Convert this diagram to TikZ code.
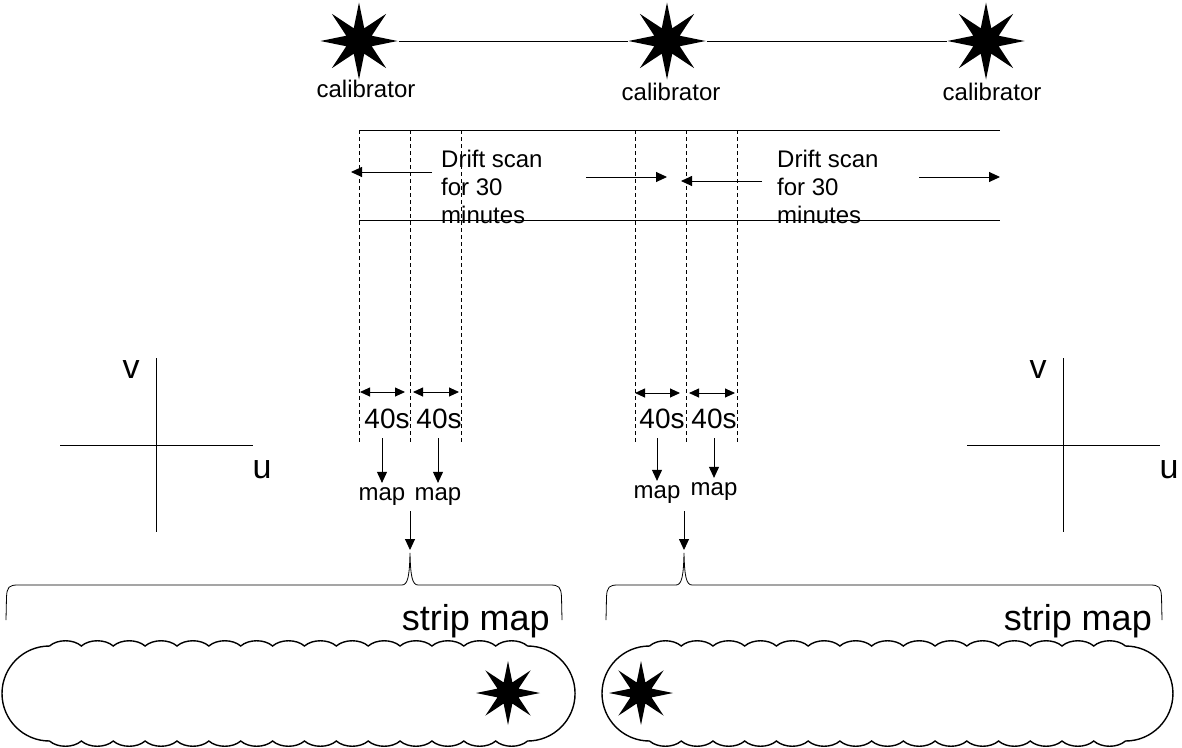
\documentclass[tikz,border=0pt]{standalone}
\usepackage{fontspec}
\setmainfont{Liberation Sans}
\usetikzlibrary{arrows.meta,shapes.geometric}
\begin{document}
\begin{tikzpicture}[x=1pt,y=-1pt,
  ln/.style={line width=0.9pt},
  dashv/.style={line width=0.8pt,dash pattern=on 4pt off 3pt},
  arr/.style={line width=0.9pt,-{Triangle[length=11pt,width=10pt]}},
  darr/.style={line width=0.9pt,{Triangle[length=10pt,width=9pt]}-{Triangle[length=10pt,width=9pt]}},
  calstar/.style={star,star points=8,star point ratio=2.8,fill=black,draw=none,inner sep=0pt,minimum size=77pt},
  mapstar/.style={calstar,minimum size=64pt},
  lbl/.style={font=\fontsize{24}{28}\selectfont,inner sep=0pt,anchor=base},
  fortys/.style={font=\fontsize{28}{32}\selectfont,inner sep=0pt,anchor=base},
  maplbl/.style={font=\fontsize{24}{28}\selectfont,inner sep=4pt,anchor=base},
  uvlbl/.style={font=\fontsize{34}{38}\selectfont,inner sep=0pt,anchor=base},
  striplbl/.style={font=\fontsize{36}{40}\selectfont,inner sep=0pt,anchor=base east},
  brace/.style={line width=0.8pt},
  blob/.style={line width=1.4pt}
]
\useasboundingbox (0,0) rectangle (1182,747);

% calibrators
\node[calstar] (s1) at (359,41) {};
\node[calstar] (s2) at (667,41) {};
\node[calstar] (s3) at (986,41) {};
\draw[ln] (s1) -- (s2);
\draw[ln] (s2) -- (s3);
\node[lbl] (c1) at (366,97) {calibrator};
\node[lbl] (c2) at (671,100) {calibrator};
\node[lbl] (c3) at (992,100) {calibrator};

% drift scan band
\draw[ln] (359,130) -- (1000,130);
\draw[ln] (359,220) -- (1000,220);
\foreach \x in {359,410,461,635,686,737} \draw[dashv] (\x,130) -- (\x,442);

\node[lbl,align=left,anchor=base west] (t1) at (441,223) {Drift scan\\for 30\\minutes};
\node[lbl,align=left,anchor=base west] (t2) at (777,223) {Drift scan\\for 30\\minutes};
\draw[arr] (432,172) -- (351,172);
\draw[arr] (586,177) -- (667,177);
\draw[arr] (762,181) -- (681,181);
\draw[arr] (919,177) -- (1000,177);

% 40s intervals
\draw[darr] (360,392) -- (405,392);
\draw[darr] (413,392) -- (459,392);
\draw[darr] (635,393) -- (680,393);
\draw[darr] (689,393) -- (735,393);
\node[fortys] (f1) at (387,428) {40s};
\node[fortys] (f2) at (439,428) {40s};
\node[fortys] (f3) at (662,428) {40s};
\node[fortys] (f4) at (714,428) {40s};

% maps
\node[maplbl] (m1) at (382,500) {map};
\node[maplbl] (m2) at (438,500) {map};
\node[maplbl] (m3) at (657,498) {map};
\node[maplbl] (m4) at (714,495) {map};
\draw[arr] ([yshift=-10pt]m1.north |- f1.south) -- (m1.north);
\draw[arr] ([yshift=-10pt]m2.north |- f2.south) -- (m2.north);
\draw[arr] ([yshift=-10pt]m3.north |- f3.south) -- (m3.north);
\draw[arr] ([yshift=-10pt]m4.north |- f4.south) -- (m4.north);

% uv axes
\draw[ln] (60,445) -- (253,445);
\draw[ln] (156,358) -- (156,532);
\node[uvlbl] (v1) at (131,378) {v};
\node[uvlbl] (u1) at (262,478) {u};
\draw[ln] (967,445) -- (1160,445);
\draw[ln] (1063,358) -- (1063,532);
\node[uvlbl] (v2) at (1038,378) {v};
\node[uvlbl] (u2) at (1169,478) {u};

% braces
\coordinate (bk1) at (410,553);
\coordinate (bk2) at (684,553);
\coordinate (a1) at (410,511);
\coordinate (a2) at (684,511);
\draw[arr,shorten >=3pt] (a1) -- (bk1);
\draw[arr,shorten >=3pt] (a2) -- (bk2);
\draw[brace] (6,620) -- (6.5,597) .. controls (7,587) and (9,585) .. (18,585) -- (402,585)
  .. controls (408,585) and (409.5,575) .. (bk1) .. controls (410.5,575) and (412,585) .. (418,585)
  -- (550,585) .. controls (559,585) and (561,587) .. (561.5,597) -- (562,620);
\draw[brace] (606,620) -- (606.5,597) .. controls (607,587) and (609,585) .. (618,585) -- (676,585)
  .. controls (682,585) and (683.5,575) .. (bk2) .. controls (684.5,575) and (686,585) .. (692,585)
  -- (1150,585) .. controls (1159,585) and (1161,587) .. (1161.5,597) -- (1162,620);
\node[striplbl] (sm1) at (550,630) {strip map};
\node[striplbl] (sm2) at (1152,630) {strip map};

% strip maps
\draw[blob] (49.5,646)
  \foreach \i in {1,...,15}{ .. controls +(7.97,-7) and +(-7.97,-7) .. ++(31.87,0) }
  arc[start angle=-90,end angle=90,radius=47.5]
  \foreach \i in {1,...,15}{ .. controls +(-7.97,7) and +(7.97,7) .. ++(-31.87,0) }
  arc[start angle=90,end angle=270,radius=47.5] -- cycle;
\draw[blob] (649.5,646)
  \foreach \i in {1,...,15}{ .. controls +(7.93,-7) and +(-7.93,-7) .. ++(31.73,0) }
  arc[start angle=-90,end angle=90,radius=47.5]
  \foreach \i in {1,...,15}{ .. controls +(-7.93,7) and +(7.93,7) .. ++(-31.73,0) }
  arc[start angle=90,end angle=270,radius=47.5] -- cycle;
\node[mapstar] (ms1) at (508,693) {};
\node[mapstar] (ms2) at (641,693) {};
\end{tikzpicture}
\end{document}
